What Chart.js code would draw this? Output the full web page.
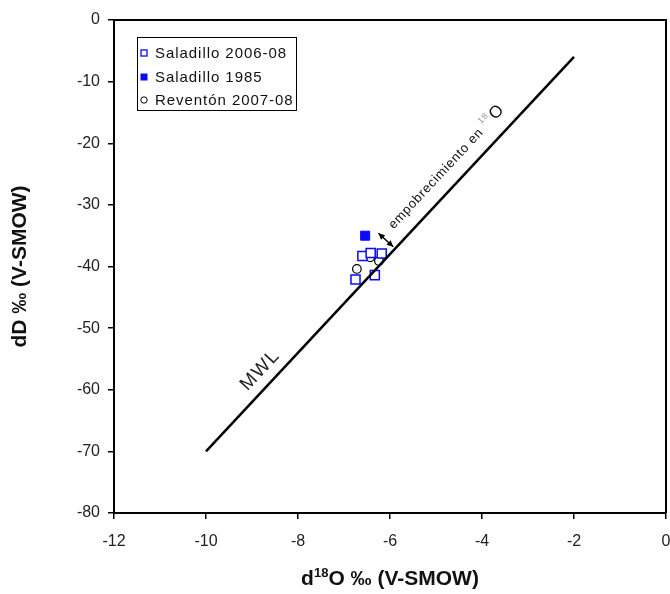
<!DOCTYPE html>
<html>
<head>
<meta charset="utf-8">
<script src="https://cdn.jsdelivr.net/npm/chart.js@4.4.1/dist/chart.umd.min.js"></script>
<style>
  html, body { margin: 0; padding: 0; background: #fff; overflow: hidden; }
  canvas { display: block; }
</style>
</head>
<body>
<canvas id="isoChart" width="670" height="594"></canvas>
<script>
// isotope samples, d18O / dD in permil V-SMOW
const saladilloRecentX = [-6.60, -6.42, -6.18, -6.75, -6.33];
const saladilloRecentY = [-38.3, -37.8, -37.9, -42.1, -41.4];
const saladillo1985X = [-6.54];
const saladillo1985Y = [-35.0];
const reventonX = [-6.43, -6.24, -6.72];
const reventonY = [-38.5, -39.1, -40.4];

// meteoric water line end points (dD = 8 d18O + 10)
const mwlX = [-10, -2];
const mwlY = [-70, -6];

// double arrow and labels along the MWL
const arrowX = [-6.25, -5.93];
const arrowY = [-34.6, -36.8];
const depletionLabelAt = [-5.92, -34.0];
const mwlLabelAt = [-9.1, -60.3];

const seriesNames = ['Saladillo 2006-08', 'Saladillo 1985', 'Reventón 2007-08'];

const FONT = "'Liberation Sans', Arial, sans-serif";
const BLUE = '#0a0aff';
const PLOT_RIGHT = 666;

const toPoints = (xs, ys) => xs.map((x, i) => ({x: x, y: ys[i]}));

// angle of the MWL in pixel space
function lineAngle(chart) {
    const xs = chart.scales.x, ys = chart.scales.y;
    const dx = xs.getPixelForValue(mwlX[1]) - xs.getPixelForValue(mwlX[0]);
    const dy = ys.getPixelForValue(mwlY[1]) - ys.getPixelForValue(mwlY[0]);
    return Math.atan2(dy, dx);
}

function arrowHead(ctx, x, y, ang) {
    ctx.beginPath();
    ctx.moveTo(x, y);
    ctx.lineTo(x - 7 * Math.cos(ang - 0.45), y - 7 * Math.sin(ang - 0.45));
    ctx.lineTo(x - 7 * Math.cos(ang + 0.45), y - 7 * Math.sin(ang + 0.45));
    ctx.closePath();
    ctx.fill();
}

// stretch the plot out to the right edge
const plotBox = {
    id: 'plotBox',
    afterLayout(chart) {
        const x = chart.scales.x;
        x.right = PLOT_RIGHT;
        x.width = x.right - x.left;
        x.configure();
        chart.chartArea.right = PLOT_RIGHT;
        chart.chartArea.width = PLOT_RIGHT - chart.chartArea.left;
    }
};

const extras = {
    id: 'extras',
    afterDatasetsDraw(chart) {
        const ctx = chart.ctx;
        const xs = chart.scales.x, ys = chart.scales.y;
        const area = chart.chartArea;
        ctx.save();

        // frame top and right
        ctx.strokeStyle = '#000';
        ctx.lineWidth = 2;
        ctx.beginPath();
        ctx.moveTo(area.left, area.top);
        ctx.lineTo(area.right, area.top);
        ctx.lineTo(area.right, area.bottom);
        ctx.stroke();

        const ang = lineAngle(chart);

        // double arrow
        const ax0 = xs.getPixelForValue(arrowX[0]), ay0 = ys.getPixelForValue(arrowY[0]);
        const ax1 = xs.getPixelForValue(arrowX[1]), ay1 = ys.getPixelForValue(arrowY[1]);
        const a = Math.atan2(ay1 - ay0, ax1 - ax0);
        ctx.fillStyle = '#000';
        ctx.lineWidth = 1.5;
        ctx.beginPath();
        ctx.moveTo(ax0, ay0);
        ctx.lineTo(ax1, ay1);
        ctx.stroke();
        arrowHead(ctx, ax1, ay1, a);
        arrowHead(ctx, ax0, ay0, a + Math.PI);

        // depletion label
        ctx.translate(xs.getPixelForValue(depletionLabelAt[0]), ys.getPixelForValue(depletionLabelAt[1]));
        ctx.rotate(ang);
        ctx.textAlign = 'left';
        ctx.textBaseline = 'alphabetic';
        ctx.letterSpacing = '0.8px';
        ctx.fillStyle = '#111';
        ctx.font = '13px ' + FONT;
        const t1 = 'empobrecimiento en ';
        ctx.fillText(t1, 0, 0);
        let w = ctx.measureText(t1).width;
        ctx.fillStyle = '#999';
        ctx.font = '9px ' + FONT;
        ctx.fillText('18', w, -8);
        w += ctx.measureText('18').width + 1;
        ctx.fillStyle = '#111';
        ctx.font = '17px ' + FONT;
        ctx.fillText('O', w, 0);
        ctx.setTransform(1, 0, 0, 1, 0, 0);

        // MWL label
        ctx.translate(xs.getPixelForValue(mwlLabelAt[0]), ys.getPixelForValue(mwlLabelAt[1]));
        ctx.rotate(ang);
        ctx.letterSpacing = '1.5px';
        ctx.fillStyle = '#222';
        ctx.font = '19px ' + FONT;
        ctx.fillText('MWL', 0, 0);
        ctx.setTransform(1, 0, 0, 1, 0, 0);

        // legend box
        const lx = 137, ly = 37, lw = 159, lh = 73;
        ctx.fillStyle = '#fff';
        ctx.fillRect(lx, ly, lw, lh);
        ctx.strokeStyle = '#000';
        ctx.lineWidth = 1;
        ctx.strokeRect(lx + 0.5, ly + 0.5, lw, lh);
        const rows = [ly + 16, ly + 40, ly + 63];
        ctx.font = '15px ' + FONT;
        ctx.letterSpacing = '0.95px';
        ctx.textBaseline = 'middle';
        seriesNames.forEach((name, i) => {
            const cy = rows[i];
            const cx = lx + 7;
            if (i === 0) {
                ctx.strokeStyle = BLUE;
                ctx.lineWidth = 1.3;
                ctx.strokeRect(cx - 3, cy - 3, 6, 6);
            } else if (i === 1) {
                ctx.fillStyle = BLUE;
                ctx.fillRect(cx - 3.5, cy - 3.5, 7, 7);
            } else {
                ctx.strokeStyle = '#000';
                ctx.lineWidth = 1;
                ctx.beginPath();
                ctx.arc(cx, cy, 3.2, 0, Math.PI * 2);
                ctx.stroke();
            }
            ctx.fillStyle = '#111';
            ctx.fillText(name, lx + 18, cy + 1);
        });

        // x axis title with superscript
        ctx.letterSpacing = '0px';
        ctx.textBaseline = 'alphabetic';
        ctx.fillStyle = '#111';
        const big = 'bold 21px ' + FONT, small = 'bold 13px ' + FONT;
        const parts = [['d', big, 0], ['18', small, -8], ['O \u2030 (V-SMOW)', big, 0]];
        let total = 0;
        parts.forEach(p => { ctx.font = p[1]; total += ctx.measureText(p[0]).width; });
        let tx = (area.left + area.right) / 2 - total / 2;
        const ty = 585;
        parts.forEach(p => {
            ctx.font = p[1];
            ctx.fillText(p[0], tx, ty + p[2]);
            tx += ctx.measureText(p[0]).width;
        });
        ctx.restore();
    }
};

new Chart(document.getElementById('isoChart'), {
    type: 'scatter',
    data: {
        datasets: [
            {
                label: 'MWL',
                type: 'line',
                data: toPoints(mwlX, mwlY),
                borderColor: '#000',
                borderWidth: 2.5,
                pointRadius: 0,
                fill: false
            },
            {
                label: seriesNames[0],
                data: toPoints(saladilloRecentX, saladilloRecentY),
                pointStyle: 'rect',
                pointRadius: 6.4,
                pointBorderColor: BLUE,
                pointBackgroundColor: '#fff',
                pointBorderWidth: 1.5
            },
            {
                label: seriesNames[1],
                data: toPoints(saladillo1985X, saladillo1985Y),
                pointStyle: 'rect',
                pointRadius: 6.4,
                pointBorderColor: BLUE,
                pointBackgroundColor: BLUE,
                pointBorderWidth: 1
            },
            {
                label: seriesNames[2],
                data: toPoints(reventonX, reventonY),
                pointStyle: 'circle',
                pointRadius: 4.3,
                pointBorderColor: '#000',
                pointBackgroundColor: '#fff',
                pointBorderWidth: 1.2
            }
        ]
    },
    options: {
        responsive: false,
        animation: false,
        layout: { autoPadding: false, padding: { top: 20, right: 4, left: 0, bottom: 0 } },
        plugins: {
            legend: { display: false },
            tooltip: { enabled: false }
        },
        scales: {
            x: {
                type: 'linear',
                min: -12,
                max: 0,
                ticks: { stepSize: 2, color: '#222', padding: 13, font: { family: FONT, size: 16 } },
                grid: { drawOnChartArea: false, drawTicks: true, tickLength: 6, color: '#000', lineWidth: 1.5 },
                border: { color: '#000', width: 2 },
                afterFit: s => { s.height = 81; }
            },
            y: {
                type: 'linear',
                min: -80,
                max: 0,
                ticks: { stepSize: 10, color: '#222', padding: 8, font: { family: FONT, size: 16 } },
                grid: { drawOnChartArea: false, drawTicks: true, tickLength: 6, color: '#000', lineWidth: 1.5 },
                border: { color: '#000', width: 2 },
                title: {
                    display: true,
                    text: 'dD \u2030 (V-SMOW)',
                    color: '#111',
                    font: { family: FONT, size: 21, weight: 'bold' },
                    padding: { top: 8 }
                },
                afterFit: s => { s.width = 114; }
            }
        }
    },
    plugins: [plotBox, extras]
});
</script>
</body>
</html>
